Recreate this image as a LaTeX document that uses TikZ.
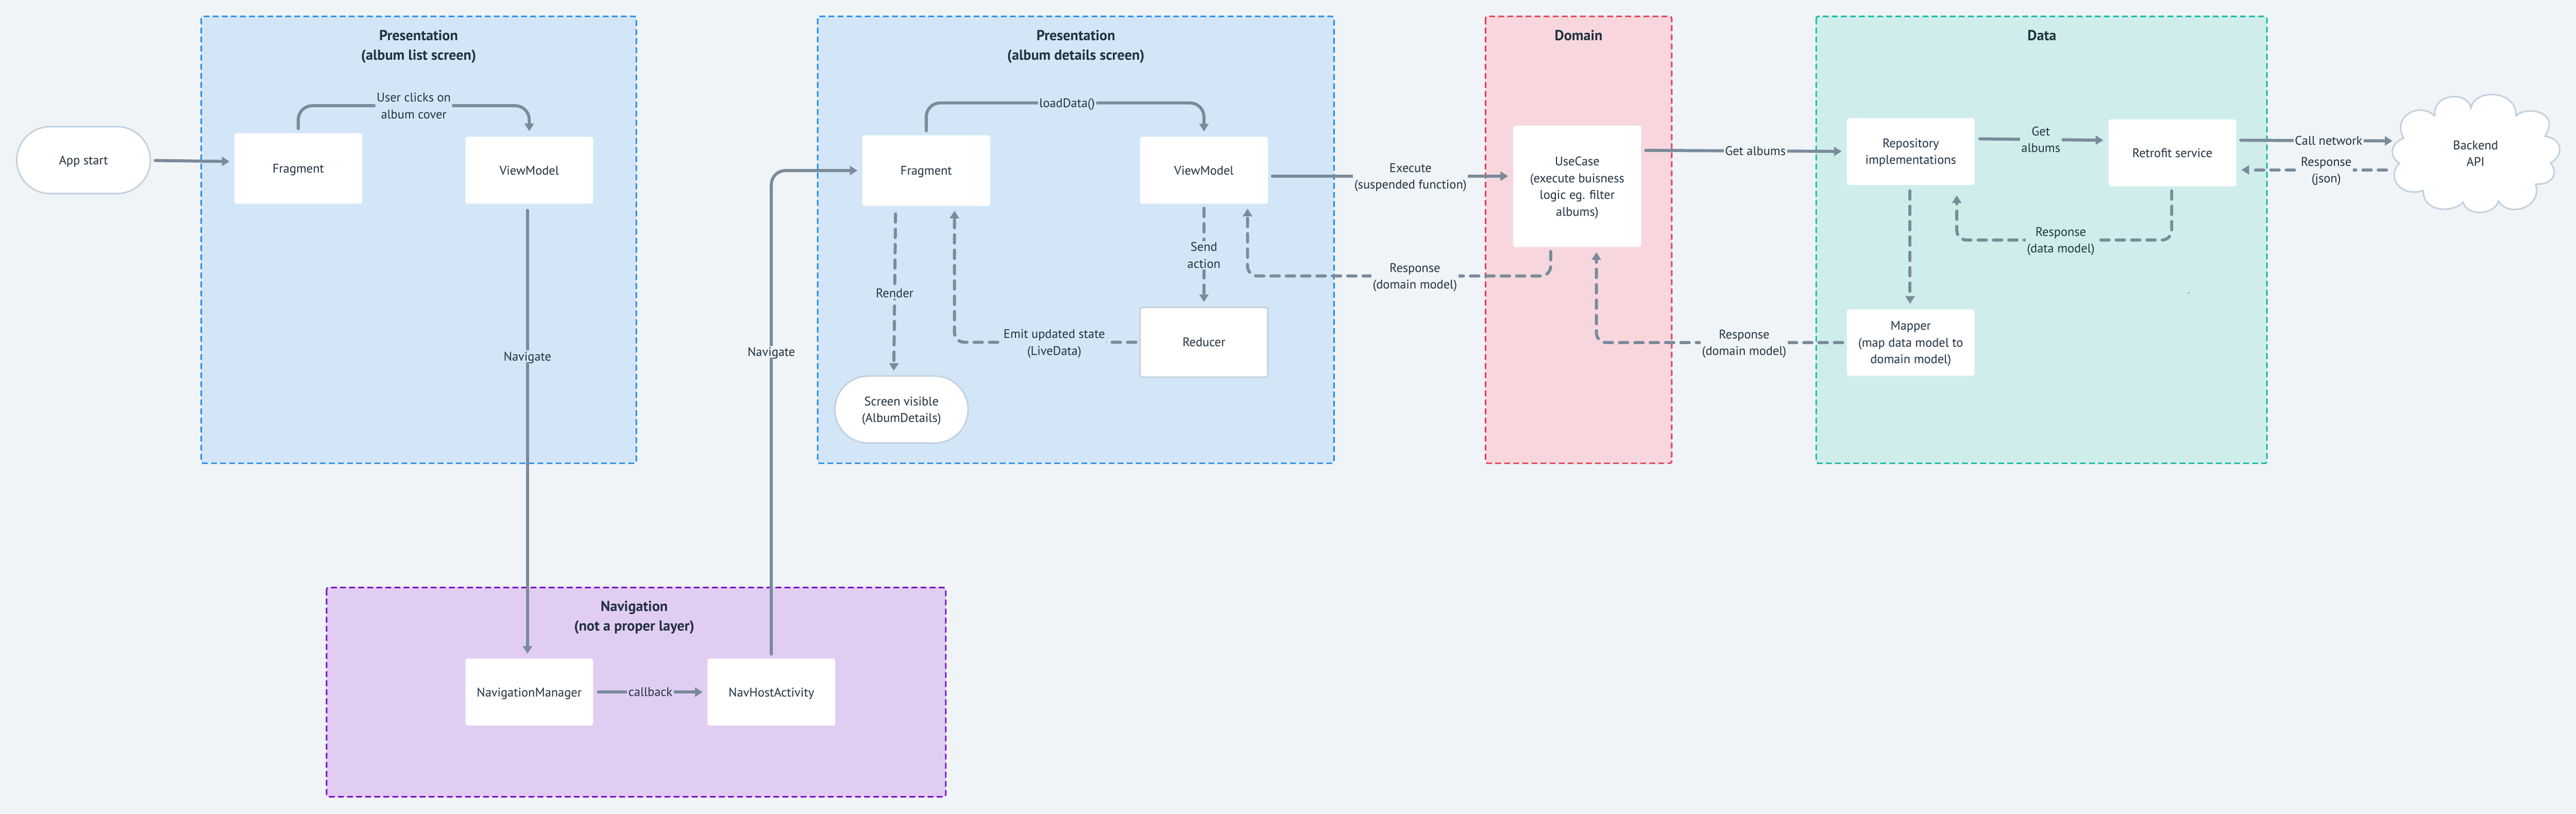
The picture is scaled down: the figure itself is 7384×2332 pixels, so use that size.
\documentclass[tikz,border=0pt]{standalone}
\usepackage{fontspec}
\setmainfont{PT Sans}
\usetikzlibrary{arrows.meta,calc}
\definecolor{bgc}{HTML}{F0F4F7}
\definecolor{inkc}{HTML}{223240}
\definecolor{linec}{HTML}{7A8B9B}
\definecolor{edgec}{HTML}{C3D1DE}
\definecolor{bluef}{HTML}{D3E6F7}
\definecolor{blued}{HTML}{2A8DE4}
\definecolor{pinkf}{HTML}{F7D7DD}
\definecolor{pinkd}{HTML}{E2405C}
\definecolor{greenf}{HTML}{CFEDEB}
\definecolor{greend}{HTML}{14B8A2}
\definecolor{purpf}{HTML}{E1CDF2}
\definecolor{purpd}{HTML}{7A10C8}
\tikzset{
  every node/.style={outer sep=0pt,inner sep=0pt,text=inkc,font=\fontsize{9}{12}\selectfont,align=center,text depth=0pt},
  layer/.style={draw=#1,line width=1.1pt,dash pattern=on 4.2pt off 2.3pt,rounded corners=1.5pt},
  title/.style={font=\fontsize{10.4}{14}\selectfont\bfseries},
  whitebox/.style={fill=white,rounded corners=1.5pt,minimum width=91.5pt},
  edgebox/.style={whitebox,draw=edgec,line width=1.1pt},
  pill/.style={fill=white,draw=edgec,line width=1.1pt,rounded corners=24pt},
  flow/.style={draw=linec,line width=2.2pt,line cap=round,-{Triangle[width=6.5pt,length=5.5pt]}},
  dflow/.style={flow,dash pattern=on 6pt off 5pt},
  lbl/.style={fill=#1,inner sep=1pt},
  lbl/.default=bgc
}
\begin{document}
\begin{tikzpicture}[x=0.25pt,y=-0.25pt]
\useasboundingbox (0,0) rectangle (7384,2332);
\fill[bgc] (0,0) rectangle (7384,2332);
% layers
\draw[layer=blued,fill=bluef] (577,47) rectangle (1824,1328);
\draw[layer=blued,fill=bluef] (2344,47) rectangle (3824,1328);
\draw[layer=pinkd,fill=pinkf] (4258,47) rectangle (4792,1328);
\draw[layer=greend,fill=greenf] (5206,47) rectangle (6498,1328);
\draw[layer=purpd,fill=purpf] (936,1684) rectangle (2711,2284);
% titles
\node[title] (t1) at (1200,129) {Presentation\\(album list screen)};
\node[title] (t2) at (3084,129) {Presentation\\(album details screen)};
\node[title] (t3) at (4525,101) {Domain};
\node[title] (t4) at (5853,101) {Data};
\node[title] (t5) at (1818,1765) {Navigation\\(not a proper layer)};
% nodes
\node[pill,minimum width=95.75pt,minimum height=48pt] (appstart) at (239.5,459) {App start};
\node[whitebox,minimum height=50.5pt] (frag1) at (855,483) {Fragment};
\node[whitebox,minimum height=48pt] (vm1) at (1517,488) {ViewModel};
\node[whitebox,minimum height=50.5pt] (frag2) at (2655,489) {Fragment};
\node[whitebox,minimum height=48pt] (vm2) at (3451,488) {ViewModel};
\node[edgebox,minimum height=50pt] (reducer) at (3451,981) {Reducer};
\node[pill,minimum width=95.5pt,minimum height=48pt] (screen) at (2584,1174) {Screen visible\\(AlbumDetails)};
\node[whitebox,minimum height=87pt] (usecase) at (4521,534) {UseCase\\(execute buisness\\logic eg. filter\\albums)};
\node[whitebox,minimum height=48pt] (repo) at (5477,434) {Repository\\implementations};
\node[whitebox,minimum height=47.5pt] (mapper) at (5477,982) {Mapper\\(map data model to\\domain model)};
\node[whitebox,minimum height=48pt] (retrofit) at (6227,438) {Retrofit service};
\node[whitebox,minimum height=48pt] (navman) at (1517,1984) {NavigationManager};
\node[whitebox,minimum height=48pt] (navhost) at (2211,1984) {NavHostActivity};
% cloud
\begin{scope}[shift={(5700,200)},x=0.2685pt,y=-0.18335pt]
\draw[fill=white,draw=edgec,line width=1.1pt,line join=round]
  (1191,180) .. controls (1185,85) and (1285,85) .. (1287,152)
  .. controls (1295,72) and (1410,76) .. (1408,181)
  .. controls (1430,140) and (1530,160) .. (1485,260)
  .. controls (1535,270) and (1535,335) .. (1500,365)
  .. controls (1520,400) and (1510,450) .. (1460,447)
  .. controls (1480,540) and (1385,580) .. (1361,512)
  .. controls (1352,572) and (1272,572) .. (1267,517)
  .. controls (1240,560) and (1160,560) .. (1160,472)
  .. controls (1100,500) and (1060,420) .. (1097,365)
  .. controls (1070,345) and (1070,285) .. (1108,268)
  .. controls (1075,180) and (1150,125) .. (1191,180) -- cycle;
\fill[linec] (534,872) circle (0.6pt);
\end{scope}
\node[minimum width=120pt,minimum height=84.5pt] (cloud) at (7096,440) {Backend\\API};
% helper coordinates
\coordinate (e1) at ($(frag2.south)+(81,14)$);
\coordinate (r1a) at ($(usecase.south)+(-76,13)$);
\coordinate (r1c) at ($(r1a)+(0,70)$);
\coordinate (r1b) at ($(vm2.south)+(125,14)$);
\coordinate (r2b) at ($(usecase.south)+(55,15)$);
\coordinate (r3a) at ($(retrofit.south)+(-2,13)$);
\coordinate (r3c) at ($(r3a)+(0,141)$);
\coordinate (r3b) at ($(repo.south)+(132,30)$);
% connectors
\draw[flow] ($(appstart.east)+(14,1)$) -- ($(frag1.west)+(-14,-20)$);
\draw[flow,rounded corners=10pt] ($(frag1.north)+(0,-13)$) -- ++(0,-66) -- node[lbl=bluef]{User clicks on\\album cover} ++(662,0) -- ($(vm1.north)+(0,-16)$);
\draw[flow] ($(vm1.south)+(-5,19)$) -- node[lbl=bluef,pos=.329]{Navigate} ($(navman.north)+(-5,-14)$);
\draw[flow,rounded corners=10pt] ($(navhost.north)+(0,-13)$) -- node[lbl,pos=.625]{Navigate} (navhost.north |- frag2.west) -- ($(frag2.west)+(-14,0)$);
\draw[flow] ($(navman.east)+(15,0)$) -- node[lbl=purpf,pos=.5]{callback} ($(navhost.west)+(-14,0)$);
\draw[flow,rounded corners=10pt] ($(frag2.north)+(0,-13)$) -- ++(0,-80) -- node[lbl=bluef,pos=.507]{loadData()} ++(796,0) -- ($(vm2.north)+(0,-15)$);
\draw[dflow] ($(frag2.south)+(-88,23)$) -- node[lbl=bluef,pos=.504]{Render} ($(screen.north)+(-22,-15)$);
\draw[dflow,rounded corners=7pt] ($(reducer.west)+(-12,0)$) -- node[lbl=bluef,pos=.45]{Emit updated state\\(LiveData)} (e1 |- reducer.west) -- (e1);
\draw[dflow] ($(vm2.south)+(0,13)$) -- node[lbl=bluef]{Send\\action} ($(reducer.north)+(0,-15)$);
\draw[flow] ($(vm2.east)+(13,17)$) -- node[lbl,pos=.586]{Execute\\(suspended function)} ($(usecase.west)+(-15,-29)$);
\draw[dflow,rounded corners=7pt] (r1a) -- (r1c) -- node[lbl,pos=.448]{Response\\(domain model)} (r1b |- r1c) -- (r1b);
\draw[flow] ($(usecase.east)+(13,-103)$) -- node[lbl,pos=.56]{Get albums} ($(repo.west)+(-15,0)$);
\draw[dflow,rounded corners=7pt] ($(mapper.west)+(-12,0)$) -- node[lbl,pos=.4]{Response\\(domain model)} (r2b |- mapper.west) -- (r2b);
\draw[dflow] ($(repo.south)+(-2,17)$) -- ($(mapper.north)+(-2,-16)$);
\draw[flow] ($(repo.east)+(15,-36)$) -- node[lbl=greenf,pos=.494]{Get\\albums} ($(retrofit.west)+(-15,-36)$);
\draw[dflow,rounded corners=7pt] (r3a) -- (r3c) -- node[lbl=greenf,pos=.516]{Response\\(data model)} (r3b |- r3c) -- (r3b);
\draw[flow] ($(retrofit.east)+(13,-36)$) -- node[lbl,pos=.579]{Call network} ($(cloud.west)+(2,-36)$);
\draw[dflow] ($(cloud.west)+(-15,47)$) -- node[lbl,pos=.416]{Response\\(json)} ($(retrofit.east)+(15,49)$);
\end{tikzpicture}
\end{document}
